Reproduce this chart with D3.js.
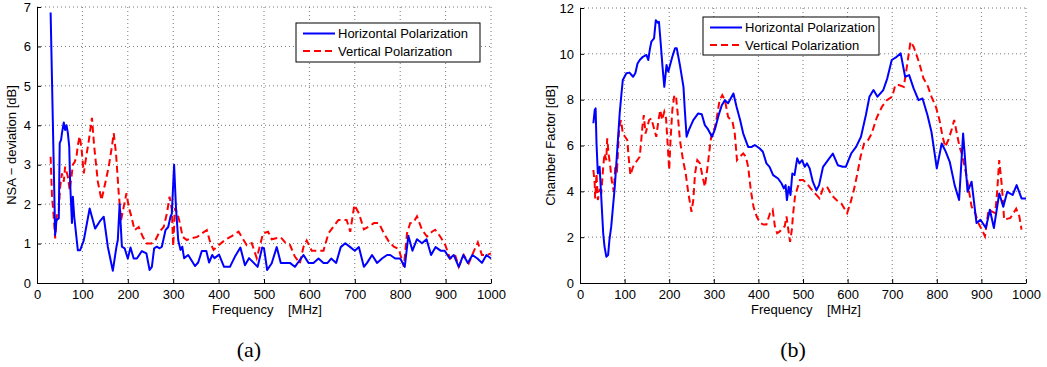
<!DOCTYPE html>
<html>
<head>
<meta charset="utf-8">
<script src="https://cdn.jsdelivr.net/npm/d3@7"></script>
<style>
  body { margin: 0; background: #fff; }
  text { font-family: "Liberation Sans", Arial, Helvetica, sans-serif; }
  text.caption { font-family: "Liberation Serif", "Times New Roman", serif; }
</style>
</head>
<body>
<script>
// (a) NSA deviation, horizontal polarization
const fA_H = [30,40,43,48,50,53,55,59,62,65,68,71,73,77,79,82,90,95,103,116,128,140,147,156,167,175,178,182,187,193,200,206,213,220,231,241,248,253,258,264,270,275,283,289,294,297,302,306,311,316,320,324,333,348,355,363,373,379,386,391,401,412,425,436,448,458,467,486,496,500,507,517,528,537,557,568,587,598,609,620,631,640,648,659,669,679,690,700,709,720,727,738,749,760,771,778,789,800,810,818,827,837,848,858,868,878,889,898,909,918,929,939,949,959,970,980,990,1000]
const nsaH = [6.86,1.22,1.6,1.64,3.55,3.63,3.8,4.07,3.88,4.0,3.8,3.46,2.53,1.52,2.19,1.68,0.83,0.83,1.08,1.89,1.38,1.59,1.68,0.92,0.31,0.92,1.09,2.0,0.92,0.88,0.62,0.9,0.62,0.62,0.81,0.75,0.33,0.41,0.88,0.92,0.88,0.92,1.34,1.42,1.68,1.76,3.0,1.94,1.09,0.84,0.92,0.63,0.71,0.43,0.52,0.81,0.81,0.52,0.71,0.63,0.72,0.41,0.41,0.67,0.9,0.45,0.63,0.41,0.9,0.88,0.33,0.5,0.91,0.51,0.51,0.41,0.71,0.51,0.51,0.62,0.51,0.51,0.62,0.51,0.91,1.01,0.91,0.82,0.91,0.41,0.51,0.71,0.51,0.62,0.71,0.71,0.62,0.62,0.41,1.2,0.82,1.11,1.01,1.11,0.71,0.91,0.82,0.82,0.62,0.71,0.41,0.71,0.51,0.71,0.62,0.51,0.71,0.62]

// (a) NSA deviation, vertical polarization
const fA_V = [30,33,36,40,44,48,51,55,59,62,68,72,76,79,83,87,90,94,98,103,109,114,121,126,134,142,151,158,165,169,174,180,185,191,197,202,208,215,224,233,242,252,261,270,279,286,292,297,300,304,309,313,321,330,338,353,363,374,382,389,400,414,429,444,451,462,473,484,498,509,517,537,548,557,568,579,587,594,605,616,631,642,653,664,682,690,699,709,720,731,742,753,764,775,786,797,808,815,822,829,837,848,859,870,877,888,899,910,921,929,940,951,962,971,980,991,1000]
const nsaV = [3.2,2.2,1.8,1.13,1.76,1.84,2.44,2.78,2.57,2.95,2.7,2.35,2.7,3.0,3.07,3.2,3.5,3.72,3.42,2.78,3.25,3.6,4.19,3.46,2.57,2.1,2.57,2.95,3.46,3.8,3.29,2.28,1.59,1.93,2.28,1.93,1.68,1.34,1.42,1.17,1.0,1.0,1.09,1.3,1.42,1.76,2.19,1.86,0.93,1.9,1.77,1.6,1.17,1.09,1.13,1.17,1.26,1.34,1.01,0.84,0.96,1.09,1.19,1.3,1.17,0.96,1.01,0.63,1.26,1.3,1.11,1.16,1.01,0.97,0.67,0.5,0.92,1.08,0.82,0.82,0.82,1.26,1.43,1.6,1.6,1.3,1.98,1.77,1.36,1.43,1.52,1.52,1.26,1.05,0.92,0.86,0.41,1.26,1.52,1.53,1.69,1.35,1.18,1.3,1.35,1.18,0.97,0.62,0.71,0.41,0.71,0.5,0.8,1.03,0.71,0.71,0.75]

// (b) chamber factor, horizontal polarization
const fB_H = [30,33,35,37,40,44,48,52,55,59,63,66,70,74,78,81,85,89,93,96,104,111,119,124,129,134,141,149,153,157,160,166,170,174,177,181,185,189,194,198,202,207,213,217,224,232,235,239,244,254,265,273,280,286,292,296,303,311,318,325,332,344,351,359,366,377,385,392,403,410,418,425,433,444,452,457,461,464,468,472,476,481,487,492,498,504,509,515,522,530,536,545,556,567,578,589,596,608,619,630,641,649,658,667,680,689,699,710,719,729,738,748,759,768,779,788,800,811,820,829,840,850,859,869,878,889,898,910,919,928,940,949,958,970,979,990,1000]
const cfH = [6.97,7.55,7.62,6.1,4.78,5.07,3.62,2.17,1.59,1.15,1.22,1.88,2.46,3.33,4.2,5.07,6.24,7.4,8.27,8.86,9.15,9.18,9.0,9.15,9.58,9.73,9.87,9.95,9.73,10.24,10.53,10.67,11.47,11.36,11.4,10.45,9.44,8.56,9.51,9.22,9.51,9.87,10.24,10.24,9.51,8.56,7.55,6.38,6.67,7.11,7.4,7.36,6.89,6.74,6.52,6.38,6.74,7.33,7.76,7.98,7.84,8.27,7.69,7.11,6.52,5.94,5.94,6.02,5.87,5.73,5.22,5.07,4.71,4.56,4.34,4.13,4.27,3.62,4.2,3.84,4.78,4.71,5.44,5.22,5.36,5.07,5.22,5.0,4.42,4.05,4.27,5.07,5.36,5.65,5.14,5.07,5.07,5.65,5.94,6.38,7.33,8.13,8.42,8.13,8.42,8.93,9.73,9.87,10.02,9.0,9.07,8.49,7.98,8.05,7.33,6.6,5.0,6.09,5.73,5.29,4.27,3.62,6.52,3.98,4.42,2.62,2.76,2.4,3.2,2.4,3.91,3.33,3.98,3.84,4.27,3.69,3.69]

// (b) chamber factor, vertical polarization
const fB_V = [30,33,34,37,40,44,48,52,55,59,61,64,68,71,76,79,83,88,92,96,101,106,109,113,119,126,134,140,143,147,151,155,160,166,171,176,180,184,189,193,198,200,203,207,211,215,219,224,231,237,243,250,254,258,263,269,274,280,286,292,296,302,307,313,319,325,332,342,347,352,358,366,372,377,383,389,396,404,411,418,426,432,437,442,448,454,459,463,467,471,475,478,482,486,493,500,508,517,527,537,545,554,564,575,586,599,606,614,622,629,637,646,654,665,677,688,700,707,715,726,734,741,748,756,763,770,779,788,798,806,813,819,826,834,839,845,851,858,867,873,878,886,893,901,908,916,923,931,935,940,946,951,965,978,985,990]
const cfV = [4.93,4.34,3.69,4.78,3.62,4.05,3.98,5.07,5.65,5.36,6.31,5.65,5.07,4.49,3.98,5.07,4.93,6.82,7.11,6.52,6.38,6.24,5.51,4.71,5.07,5.29,5.51,6.82,7.33,6.52,6.82,7.11,7.18,6.74,6.38,7.11,7.55,7.11,7.47,7.18,5.58,4.93,6.24,7.55,8.13,8.2,7.4,6.24,5.36,4.78,3.91,3.11,3.62,4.78,5.36,5.22,4.71,4.2,5.07,6.09,6.6,6.74,7.25,7.98,8.2,7.98,7.25,7.03,6.52,5.36,5.51,5.65,5.51,5.07,4.05,3.33,2.91,2.62,2.55,2.55,3.05,3.2,2.47,2.17,2.25,2.4,2.47,2.91,2.33,1.8,2.33,3.05,3.76,4.05,4.49,4.49,4.37,4.13,3.91,3.69,4.13,4.2,3.84,3.62,3.47,3.05,3.47,4.05,4.78,5.51,6.09,6.24,6.52,7.2,7.69,7.98,8.13,8.64,8.64,8.56,9.58,10.53,10.31,9.87,9.44,8.93,8.64,8.13,7.69,7.11,6.38,5.94,6.24,6.74,7.11,6.52,5.94,5.51,4.63,3.91,3.33,3.05,2.62,2.33,2.04,3.2,3.13,3.05,3.91,5.36,4.2,2.76,2.84,3.24,2.91,2.33]

const xTicks = [0,100,200,300,400,500,600,700,800,900,1000]
const yTicksA = [0,1,2,3,4,5,6,7]
const yTicksB = [0,2,4,6,8,10,12]
const legendNames = ['Horizontal Polarization', 'Vertical Polarization']
const colors = ['#0000ff', '#ff0000']

const svg = d3.select('body').append('svg')
  .attr('width', 1047)
  .attr('height', 367)

function drawPanel(p) {
  const x = d3.scaleLinear().domain([0, 1000]).range([p.left, p.right])
  const y = d3.scaleLinear().domain([0, p.yMax]).range([p.bottom, p.top])
  const g = svg.append('g')

  // dotted grid
  g.selectAll('.gx').data(xTicks.slice(1)).enter().append('line')
    .attr('x1', d => x(d)).attr('x2', d => x(d))
    .attr('y1', p.top).attr('y2', p.bottom)
    .attr('stroke', '#777').attr('stroke-width', 1)
    .attr('stroke-dasharray', '1,3')
  g.selectAll('.gy').data(p.yTicks.slice(1)).enter().append('line')
    .attr('x1', p.left).attr('x2', p.right)
    .attr('y1', d => y(d)).attr('y2', d => y(d))
    .attr('stroke', '#777').attr('stroke-width', 1)
    .attr('stroke-dasharray', '1,3')

  // axes, ticks inside
  const ax = g.append('g').attr('transform', `translate(0,${p.bottom})`)
    .call(d3.axisBottom(x).tickValues(xTicks).tickFormat(d3.format('d'))
      .tickSizeInner(-4).tickSizeOuter(0).tickPadding(7))
  const ay = g.append('g').attr('transform', `translate(${p.left},0)`)
    .call(d3.axisLeft(y).tickValues(p.yTicks).tickFormat(d3.format('d'))
      .tickSizeInner(-4).tickSizeOuter(0).tickPadding(6))
  ;[ax, ay].forEach(a => {
    a.select('.domain').attr('stroke', '#000')
    a.selectAll('text').attr('font-size', 13).attr('fill', '#000')
  })

  // lines
  const line = d3.line().x(d => x(d[0])).y(d => y(d[1]))
  g.append('path').datum(d3.zip(p.fV, p.vV))
    .attr('d', line).attr('fill', 'none')
    .attr('stroke', colors[1]).attr('stroke-width', 2)
    .attr('stroke-dasharray', '7,4')
  g.append('path').datum(d3.zip(p.fH, p.vH))
    .attr('d', line).attr('fill', 'none')
    .attr('stroke', colors[0]).attr('stroke-width', 2)
    .attr('stroke-linejoin', 'round')

  // labels
  g.append('text')
    .attr('transform', `translate(${p.ylabX},${(p.top + p.bottom) / 2}) rotate(-90)`)
    .attr('text-anchor', 'middle').attr('font-size', 13)
    .text(p.ylab)
  g.append('text')
    .attr('x', (p.left + p.right) / 2 + 3).attr('y', 314)
    .attr('text-anchor', 'middle').attr('font-size', 13)
    .style('white-space', 'pre')
    .text('Frequency    [MHz]')
  g.append('text')
    .attr('class', 'caption')
    .attr('x', p.capX).attr('y', 357)
    .attr('text-anchor', 'middle').attr('font-size', 22)
    .text(p.caption)

  // legend
  const L = p.legend
  g.append('rect')
    .attr('x', L.x).attr('y', L.y).attr('width', L.w).attr('height', L.h)
    .attr('fill', '#fff').attr('stroke', '#000').attr('stroke-width', 1)
  legendNames.forEach((name, i) => {
    const ly = L.y + 10.5 + i * 17.5
    g.append('line')
      .attr('x1', L.x + 7).attr('x2', L.x + 39)
      .attr('y1', ly).attr('y2', ly)
      .attr('stroke', colors[i]).attr('stroke-width', 2)
      .attr('stroke-dasharray', i ? '7,4' : null)
    g.append('text')
      .attr('x', L.x + 42).attr('y', ly + 4.5)
      .attr('font-size', 13)
      .text(name)
  })
}

drawPanel({
  left: 37, right: 491, top: 7, bottom: 283, yMax: 7, yTicks: yTicksA,
  fH: fA_H, vH: nsaH, fV: fA_V, vV: nsaV,
  ylab: 'NSA \u2212 deviation [dB]', ylabX: 16, caption: '(a)', capX: 249,
  legend: { x: 296, y: 23, w: 184, h: 39 }
})

drawPanel({
  left: 580, right: 1026, top: 8, bottom: 283, yMax: 12, yTicks: yTicksB,
  fH: fB_H, vH: cfH, fV: fB_V, vV: cfV,
  ylab: 'Chamber Factor [dB]', ylabX: 555, caption: '(b)', capX: 793,
  legend: { x: 703, y: 17, w: 176, h: 38 }
})
</script>
</body>
</html>
